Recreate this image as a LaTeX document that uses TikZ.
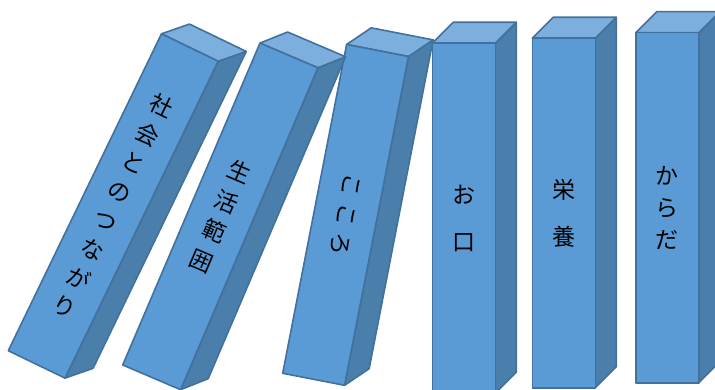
\documentclass[tikz,border=0pt]{standalone}
\usepackage{fontspec}
\newfontfamily\jpfont{Noto Sans CJK JP}
\definecolor{domfront}{HTML}{5B9BD5}
\definecolor{domtop}{HTML}{7CAFDD}
\definecolor{domside}{HTML}{4A7EAB}
\definecolor{domline}{HTML}{41719C}
\tikzset{
  domface/.style={draw=domline, line width=1.6pt, line join=round},
  domtext/.style={font=\jpfont\fontsize{23}{32}\selectfont, align=center, inner sep=0pt},
}
% #1 front bottom left corner, #2 tilt, #3 height, #4 name, #5 label
\newcommand{\domino}[5]{%
\begin{scope}[shift={#1}, rotate=-#2]
  \coordinate (#4-bl) at (0,0);
  \coordinate (#4-br) at (63,0);
  \coordinate (#4-tr) at (63,#3);
  \coordinate (#4-tl) at (0,#3);
  \filldraw[domface, fill=domside] (#4-br) -- ++(21,21) -- ++(0,#3) -- (#4-tr) -- cycle;
  \filldraw[domface, fill=domtop] (#4-tl) -- ++(21,21) -- ++(63,0) -- (#4-tr) -- cycle;
  \filldraw[domface, fill=domfront] (#4-bl) rectangle (#4-tr);
  \node[domtext, rotate=-#2] (#4-text) at (31.5,#3/2) {#5};
\end{scope}}

\begin{document}
\begin{tikzpicture}[x=1pt,y=1pt]
\clip (0,0) rectangle (715,389);
% standing ones first, the falling ones lie in front
\domino{(635.7,6.3)}{0}{350}{karada}{か\\ら\\だ}
\domino{(532.3,1.3)}{0}{349.4}{eiyou}{栄\\[15pt]養}
\domino{(432.3,-4.3)}{0}{350}{okuchi}{お\\[15pt]口}
\domino{(282.7,15.7)}{11}{335}{kokoro}{\rotatebox{-90}{こ\hspace{7pt}こ\hspace{7pt}ろ}}
\domino{(122.7,24)}{23.1}{350}{seikatsu}{生\\活\\範\\囲}
\domino{(8.3,38.3)}{25.8}{352}{shakai}{社\\会\\と\\の\\つ\\な\\が\\り}
\end{tikzpicture}
\end{document}
